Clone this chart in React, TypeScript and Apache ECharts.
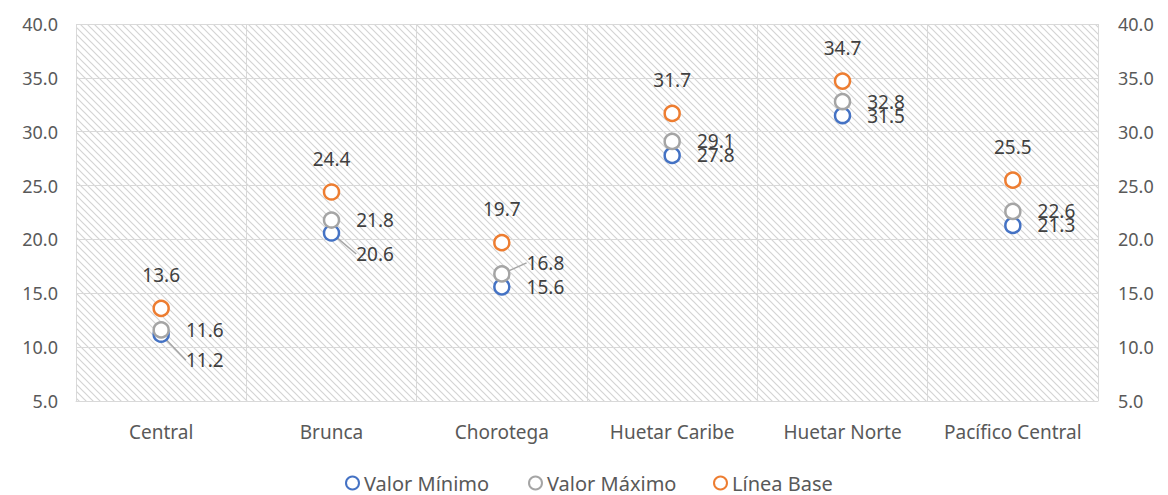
import React, { useEffect, useRef } from "react";
import * as echarts from "echarts";

const categories = ["Central", "Brunca", "Chorotega", "Huetar Caribe", "Huetar Norte", "Pacífico Central"];
const valorMinimo = [11.2, 20.6, 15.6, 27.8, 31.5, 21.3];
const valorMaximo = [11.6, 21.8, 16.8, 29.1, 32.8, 22.6];
const lineaBase = [13.6, 24.4, 19.7, 31.7, 34.7, 25.5];
const seriesNames = ["Valor Mínimo", "Valor Máximo", "Línea Base"];
const colors = ["#4472C4", "#A5A5A5", "#ED7D31"];

// labels moved away from their default place (series index -> data index -> shift)
const movedLabels: Record<number, Record<number, { dx: number; dy: number }>> = {
  0: { 0: { dx: 0, dy: 26 }, 1: { dx: 0, dy: 21 } },
  1: { 2: { dx: 0, dy: -11 } },
};

function hatch(): string {
  const c = document.createElement("canvas");
  const s = 7;
  c.width = s;
  c.height = s;
  const ctx = c.getContext("2d")!;
  ctx.fillStyle = "#ffffff";
  ctx.fillRect(0, 0, s, s);
  ctx.strokeStyle = "#d4d4d4";
  ctx.lineWidth = 1.2;
  ctx.beginPath();
  ctx.moveTo(-1, -1);
  ctx.lineTo(s + 1, s + 1);
  ctx.moveTo(-1, s - 1);
  ctx.lineTo(1, s + 1);
  ctx.moveTo(s - 1, -1);
  ctx.lineTo(s + 1, 1);
  ctx.stroke();
  return c.toDataURL();
}

const FONT = "'Noto Sans', sans-serif";

export default function App() {
  const ref = useRef<HTMLDivElement>(null);
  useEffect(() => {
    if (!ref.current) return;
    const chart = echarts.init(ref.current, null, { renderer: "svg" });
    const pattern = { image: hatch(), repeat: "repeat" };
    const yAxisCommon = {
      type: "value",
      min: 5,
      max: 40,
      interval: 5,
      axisLine: { show: false },
      axisTick: { show: false },
      axisLabel: {
        color: "#595959",
        fontSize: 18,
        fontFamily: FONT,
        formatter: (v: number) => v.toFixed(1),
      },
    };
    const seriesData = [valorMinimo, valorMaximo, lineaBase];
    const series = seriesData.map((d, i) => {
      const moved = movedLabels[i] || {};
      return {
        name: seriesNames[i],
        type: "scatter",
        data: d.map((v, j) => (moved[j] ? { value: v, labelLine: { show: true } } : { value: v })),
        symbol: "circle",
        symbolSize: 15,
        z: 2 + i,
        itemStyle: { color: "#ffffff", borderColor: colors[i], borderWidth: 2.5, opacity: 1 },
        label: {
          show: true,
          position: i === 2 ? "top" : "right",
          distance: i === 2 ? 15 : 16,
          color: "#404040",
          fontSize: 19,
          fontFamily: FONT,
          formatter: (p: any) => p.value.toFixed(1),
        },
        labelLine: { show: false, lineStyle: { color: "#A5A5A5", width: 1.5 } },
        labelLayout: (p: any) => moved[p.dataIndex] || {},
      };
    });
    const legendLefts = [345, 528, 713];
    chart.setOption({
      animation: false,
      backgroundColor: "#ffffff",
      textStyle: { fontFamily: FONT },
      grid: {
        left: 76,
        right: 70,
        top: 24,
        bottom: 94,
        show: true,
        backgroundColor: pattern,
        borderWidth: 0,
      },
      legend: seriesNames.map((n, i) => ({
        top: 472,
        left: legendLefts[i],
        padding: 0,
        itemGap: 0,
        icon: "circle",
        itemWidth: 13,
        itemHeight: 13,
        data: [n],
        textStyle: { color: "#595959", fontSize: 20, lineHeight: 22, fontFamily: FONT, padding: [0, 0, 0, 0] },
      })),
      xAxis: {
        type: "category",
        data: categories,
        axisLine: { show: true, lineStyle: { color: "#d9d9d9", width: 1 } },
        axisTick: { show: false },
        splitLine: { show: true, interval: 0, lineStyle: { color: "#d9d9d9", width: 1 } },
        axisLabel: { color: "#595959", fontSize: 19, fontFamily: FONT, margin: 21, interval: 0 },
      },
      yAxis: [
        { ...yAxisCommon, position: "left", splitLine: { show: true, lineStyle: { color: "#d9d9d9", width: 1 } }, axisLabel: { ...yAxisCommon.axisLabel, margin: 18 } },
        { ...yAxisCommon, position: "right", splitLine: { show: false }, axisLabel: { ...yAxisCommon.axisLabel, margin: 20 } },
      ],
      series,
    });
    return () => chart.dispose();
  }, []);
  return <div ref={ref} style={{ width: 1168, height: 495, position: "absolute", left: 0, top: 0 }} />;
}
